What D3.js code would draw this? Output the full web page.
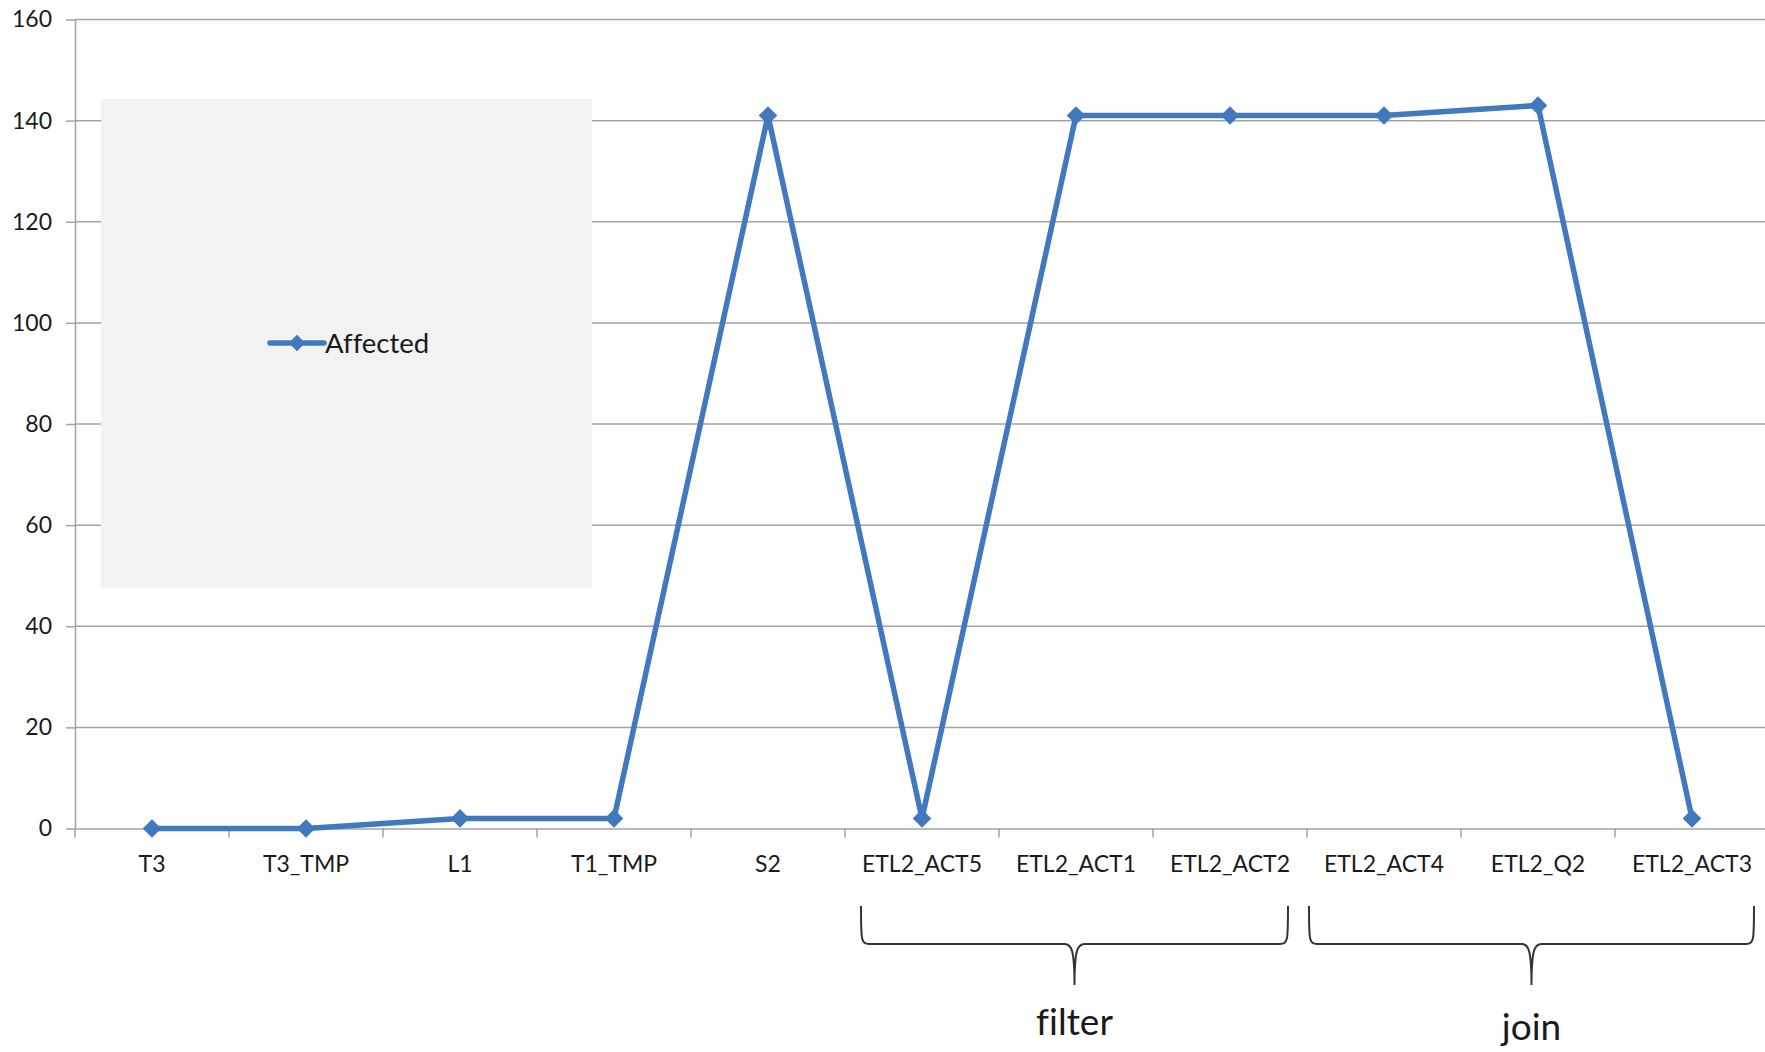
<!DOCTYPE html>
<html>
<head>
<meta charset="utf-8">
<script src="https://cdn.jsdelivr.net/npm/d3@7"></script>
<style>
  html, body { margin: 0; padding: 0; background: #fff; }
  svg { display: block; }
  text { font-family: Lato, "Open Sans", sans-serif; fill: #1a1a1a; font-variant-ligatures: none; }
</style>
</head>
<body>
<svg id="chart" width="1765" height="1052"></svg>
<script>
// Rows affected per step
const categories = ["T3", "T3_TMP", "L1", "T1_TMP", "S2", "ETL2_ACT5", "ETL2_ACT1", "ETL2_ACT2", "ETL2_ACT4", "ETL2_Q2", "ETL2_ACT3"];
const affected = [0, 0, 2, 2, 141, 2, 141, 141, 141, 143, 2];
const yTicks = [0, 20, 40, 60, 80, 100, 120, 140, 160];
const seriesName = "Affected";
// Bracketed groups of steps shown under the axis
const groups = [
  { label: "filter", from: "ETL2_ACT5", to: "ETL2_ACT2" },
  { label: "join", from: "ETL2_ACT4", to: "ETL2_ACT3" }
];

(function draw() {
  const svg = d3.select("#chart");
  const plotLeft = 75, plotRight = 1769, plotTop = 19.5, plotBottom = 828.5;
  const lineColor = "#4178be";
  const gridColor = "#a3a3a3";

  const x = d3.scaleBand().domain(categories).range([plotLeft, plotRight]).paddingInner(0).paddingOuter(0);
  const y = d3.scaleLinear().domain([0, 160]).range([plotBottom, plotTop]);
  const cx = d => x(d) + x.bandwidth() / 2;

  // horizontal gridlines
  svg.append("g").selectAll("line").data(yTicks.filter(t => t > 0)).join("line")
    .attr("x1", plotLeft).attr("x2", plotRight)
    .attr("y1", d => y(d)).attr("y2", d => y(d))
    .attr("stroke", gridColor).attr("stroke-width", 1.5);

  // y axis
  const yAxis = svg.append("g").attr("transform", `translate(${plotLeft},0)`)
    .call(d3.axisLeft(y).tickValues(yTicks).tickSize(9).tickSizeOuter(0).tickPadding(14));
  yAxis.selectAll("path, line").attr("stroke", gridColor).attr("stroke-width", 1.5);
  yAxis.selectAll("text").style("font-size", "23px").style("font-family", "Lato, sans-serif").attr("fill", "#1a1a1a");

  // x axis: labels centred in each band, ticks on band boundaries
  const xAxis = svg.append("g").attr("transform", `translate(0,${plotBottom})`)
    .call(d3.axisBottom(x).tickSize(0).tickSizeOuter(0).tickPadding(27));
  xAxis.select("path").attr("stroke", gridColor).attr("stroke-width", 1.5);
  xAxis.selectAll("text").style("font-size", "23px").style("font-family", "Lato, sans-serif").attr("fill", "#1a1a1a");
  const bounds = categories.map(c => x(c)).concat([plotRight]);
  svg.append("g").selectAll("line").data(bounds).join("line")
    .attr("x1", d => d).attr("x2", d => d)
    .attr("y1", plotBottom).attr("y2", plotBottom + 9)
    .attr("stroke", gridColor).attr("stroke-width", 1.5);

  // legend panel
  svg.append("rect").attr("x", 101).attr("y", 99).attr("width", 491).attr("height", 489).attr("fill", "#f2f2f2");
  const lg = svg.append("g").attr("transform", "translate(270,343)");
  lg.append("line").attr("x1", 0).attr("x2", 54).attr("y1", 0).attr("y2", 0)
    .attr("stroke", lineColor).attr("stroke-width", 5.5).attr("stroke-linecap", "round");
  lg.append("path").attr("d", d3.symbol(d3.symbolDiamond2, 170)()).attr("transform", "translate(27,0)").attr("fill", lineColor);
  lg.append("text").attr("x", 55).attr("y", 0).attr("dy", "0.36em").style("font-size", "27.5px").text(seriesName);

  // series line and markers
  const line = d3.line().x((d, i) => cx(categories[i])).y(d => y(d));
  svg.append("path").datum(affected).attr("d", line)
    .attr("fill", "none").attr("stroke", lineColor).attr("stroke-width", 5.5).attr("stroke-linejoin", "round");
  svg.append("g").selectAll("path").data(affected).join("path")
    .attr("d", d3.symbol(d3.symbolDiamond2, 220)())
    .attr("transform", (d, i) => `translate(${cx(categories[i])},${y(d)})`)
    .attr("fill", lineColor);

  // curly braces under grouped steps
  function bracePath(x0, x1, yTop, yMid, yTip) {
    const m = (x0 + x1) / 2, r = 8;
    return `M${x0},${yTop} C${x0},${yMid - 4} ${x0},${yMid} ${x0 + r},${yMid}` +
      ` L${m - 10},${yMid} C${m - 3},${yMid} ${m},${yMid + 6} ${m},${yTip}` +
      ` M${m},${yTip} C${m},${yMid + 6} ${m + 3},${yMid} ${m + 10},${yMid}` +
      ` L${x1 - r},${yMid} C${x1},${yMid} ${x1},${yMid - 4} ${x1},${yTop}`;
  }
  const insets = [[16, 19], [2, 15]];
  const ann = svg.append("g");
  groups.forEach((g, k) => {
    const x0 = x(g.from) + insets[k][0];
    const x1 = x(g.to) + x.bandwidth() - insets[k][1];
    ann.append("path").attr("d", bracePath(x0, x1, 906, 944, 985))
      .attr("fill", "none").attr("stroke", "#333").attr("stroke-width", 2);
    ann.append("text").attr("x", (x0 + x1) / 2).attr("y", k === 0 ? 1035 : 1040)
      .attr("text-anchor", "middle").style("font-size", "37px").text(g.label);
  });
})();
</script>
</body>
</html>
